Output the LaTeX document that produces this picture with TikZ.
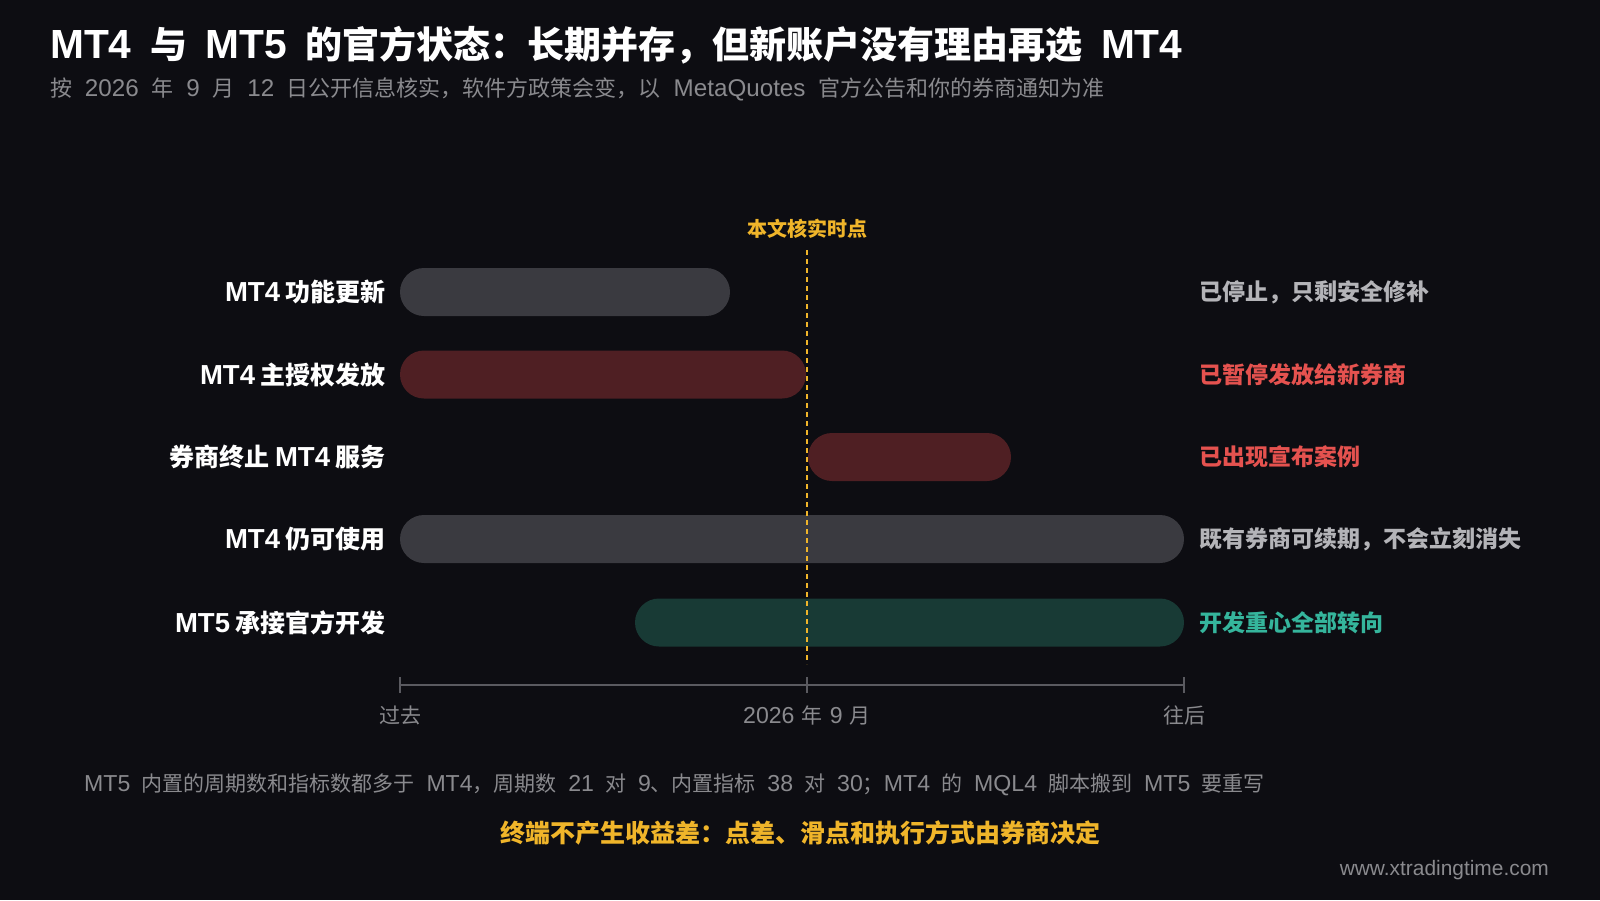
\documentclass[tikz,border=0pt]{standalone}
\usepackage{fontspec}
\setmainfont{Noto Sans CJK SC}
\newfontfamily\latn{Liberation Sans}[Scale=1.1]
\usetikzlibrary{positioning}

\definecolor{bgdark}{HTML}{0D0D12}
\definecolor{bargray}{HTML}{3A3A40}
\definecolor{barred}{HTML}{4F1F23}
\definecolor{barteal}{HTML}{183A35}
\definecolor{txtgray}{HTML}{8A8A8E}
\definecolor{notegray}{HTML}{B4B4B8}
\definecolor{notered}{HTML}{E5524F}
\definecolor{noteteal}{HTML}{35B59C}
\definecolor{gold}{HTML}{F0B52A}
\definecolor{axisgray}{HTML}{5A5A60}

\newcommand\widesp[1]{\spaceskip=#1em\relax}

\begin{document}
\begin{tikzpicture}[x=1pt, y=-1pt,
  lab/.style={anchor=east, inner sep=0pt, text=white, font=\fontsize{25}{30}\selectfont\bfseries},
  note/.style={anchor=west, inner sep=0pt, font=\fontsize{23}{28}\selectfont\bfseries},
  bar/.style={rounded corners=24pt},
  ticklab/.style={text=txtgray, inner sep=0pt, font=\fontsize{21}{25}\selectfont\widesp{0.34}}]

  \fill[bgdark] (0,0) rectangle (1600,900);
  \useasboundingbox (0,0) rectangle (1600,900);

  \node[anchor=west, inner sep=0pt, text=white, font=\fontsize{37}{44}\selectfont\bfseries\widesp{0.5}] (title) at (50,45) {{\latn MT4} 与 {\latn MT5} 的官方状态：长期并存，但新账户没有理由再选 {\latn MT4}};
  \node[anchor=west, inner sep=0pt, text=txtgray, font=\fontsize{22}{26}\selectfont\widesp{0.58}] (sub) at (50,89) {按 {\latn 2026} 年 {\latn 9} 月 {\latn 12} 日公开信息核实，软件方政策会变，以 {\latn MetaQuotes} 官方公告和你的券商通知为准};

  \fill[bargray, bar] (400,268) rectangle (730,316);
  \fill[barred, bar] (400,350.5) rectangle (806,398.5);
  \fill[barred, bar] (808,433) rectangle (1011,481);
  \fill[bargray, bar] (400,515) rectangle (1184,563);
  \fill[barteal, bar] (635,598.5) rectangle (1184,646.5);

  \node[lab] (l1) at (386,292) {{\latn MT4} 功能更新};
  \node[lab] (l2) at (386,374.5) {{\latn MT4} 主授权发放};
  \node[lab] (l3) at (386,457) {券商终止 {\latn MT4} 服务};
  \node[lab] (l4) at (386,539) {{\latn MT4} 仍可使用};
  \node[lab] (l5) at (386,622.5) {{\latn MT5} 承接官方开发};

  \node[note, text=notegray] (r1) at (1199,292) {已停止，只剩安全修补};
  \node[note, text=notered] (r2) at (1199,374.5) {已暂停发放给新券商};
  \node[note, text=notered] (r3) at (1199,457) {已出现宣布案例};
  \node[note, text=notegray] (r4) at (1199,539) {既有券商可续期，不会立刻消失};
  \node[note, text=noteteal] (r5) at (1199,622.5) {开发重心全部转向};

  \node[text=gold, inner sep=0pt, font=\fontsize{20}{24}\selectfont\bfseries] (mark) at (807,229) {本文核实时点};
  \coordinate (marktop) at (807,250);
  \coordinate (markbot) at (807,664);
  \draw[gold, line width=2pt, dash pattern=on 5pt off 4pt] (marktop) -- (markbot);

  \coordinate (past) at (400,685);
  \coordinate (now) at (807,685);
  \coordinate (later) at (1184,685);
  \draw[axisgray, line width=2pt] (past) -- (later);
  \foreach \c in {past, now, later}
    \draw[axisgray, line width=2pt] ([yshift=-8pt]\c.center) -- ([yshift=8pt]\c.center);
  \node[ticklab, below=30pt of past, anchor=center] (pastlab) {过去};
  \node[ticklab, below=30pt of now, anchor=center] (nowlab) {{\latn 2026} 年 {\latn 9} 月};
  \node[ticklab, below=30pt of later, anchor=center] (laterlab) {往后};

  \node[anchor=west, inner sep=0pt, text=txtgray, font=\fontsize{21}{25}\selectfont\widesp{0.55}] (foot) at (84,785) {{\latn MT5} 内置的周期数和指标数都多于 {\latn MT4}，周期数 {\latn 21} 对 {\latn 9}、内置指标 {\latn 38} 对 {\latn 30}；{\latn MT4} 的 {\latn MQL4} 脚本搬到 {\latn MT5} 要重写};
  \node[inner sep=0pt, text=gold, font=\fontsize{25}{30}\selectfont\bfseries] (key) at (800,833) {终端不产生收益差：点差、滑点和执行方式由券商决定};
  \node[anchor=east, inner sep=0pt, text=txtgray, font=\fontsize{19}{23}\selectfont\latn] (site) at (1549,870) {www.xtradingtime.com};
\end{tikzpicture}
\end{document}
